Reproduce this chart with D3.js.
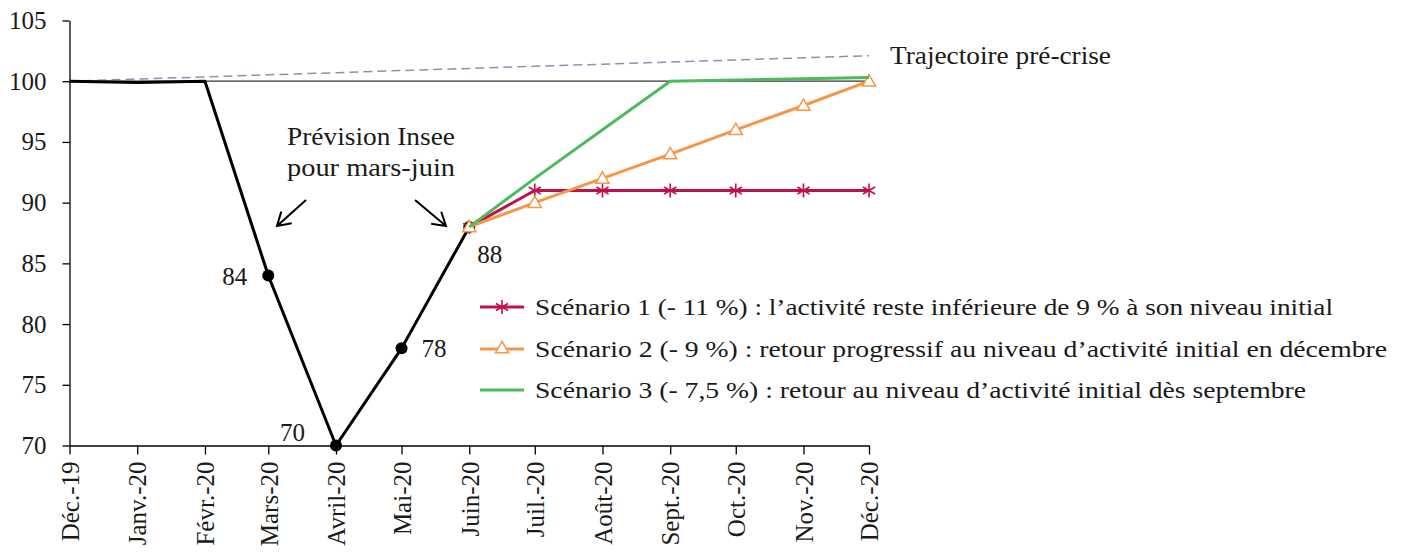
<!DOCTYPE html>
<html>
<head>
<meta charset="utf-8">
<script src="https://cdn.jsdelivr.net/npm/d3@7"></script>
<style>
  body { margin: 0; background: #fff; }
  text { font-family: "Liberation Serif", "DejaVu Serif", serif; fill: #1a1a1a; }
</style>
</head>
<body>
<svg id="chart" width="1404" height="557"></svg>
<script>
// Monthly points, December 2019 to December 2020
const months = [
  new Date(2019, 11, 1), new Date(2020, 0, 1), new Date(2020, 1, 1), new Date(2020, 2, 1),
  new Date(2020, 3, 1), new Date(2020, 4, 1), new Date(2020, 5, 1), new Date(2020, 6, 1),
  new Date(2020, 7, 1), new Date(2020, 8, 1), new Date(2020, 9, 1), new Date(2020, 10, 1),
  new Date(2020, 11, 1)
];
const monthLabels = ["Déc.-19", "Janv.-20", "Févr.-20", "Mars-20", "Avril-20", "Mai-20",
  "Juin-20", "Juil.-20", "Août-20", "Sept.-20", "Oct.-20", "Nov.-20", "Déc.-20"];

// Activity level (base 100), December 2019 to June 2020
const observed = [100, 99.9, 100, 84, 70, 78, 88];
const labelledPoints = [3, 4, 5, 6];

// Pre-crisis trend over the whole year
const preCrisis = [100, 100.18, 100.35, 100.53, 100.7, 100.88, 101.05, 101.23, 101.4, 101.58, 101.75, 101.93, 102.1];

// Scenarios from June to December 2020
const scenario1 = [88, 91, 91, 91, 91, 91, 91];
const scenario2 = [88, 90, 92, 94, 96, 98, 100];
const scenario3 = [88, 92, 96, 100, 100.1, 100.2, 100.3];
const scenarioStart = 6;

const yTicks = [70, 75, 80, 85, 90, 95, 100, 105];

const legendLabels = [
  "Scénario 1 (- 11 %) : l’activité reste inférieure de 9 % à son niveau initial",
  "Scénario 2 (- 9 %) : retour progressif au niveau d’activité initial en décembre",
  "Scénario 3 (- 7,5 %) : retour au niveau d’activité initial dès septembre"
];
const legendWidths = [798, 852, 771];
const trendLabel = "Trajectoire pré-crise";
const noteLines = ["Prévision Insee", "pour mars-juin"];

const colors = { obs: "#000", s1: "#C0104A", s2: "#F79646", s3: "#4DBA5E", trend: "#8497B0" };

const svg = d3.select("#chart");

const x = d3.scaleTime().domain([months[0], months[12]]).range([69.5, 869]);
const y = d3.scaleLinear().domain([70, 105]).range([445.5, 20.5]);

// Axes
const xAxis = svg.append("g")
  .attr("transform", `translate(0,${y(70)})`)
  .call(d3.axisBottom(x).tickValues(months).tickSize(9).tickSizeOuter(0)
    .tickFormat((d, i) => monthLabels[i]));
xAxis.selectAll("path,line").attr("stroke", "#000").attr("stroke-width", 1.3);
xAxis.selectAll("text")
  .attr("font-size", 25)
  .attr("transform", "rotate(-90)")
  .attr("text-anchor", "end")
  .attr("x", -16)
  .attr("y", 0)
  .attr("dy", "0.35em");

const yAxis = svg.append("g")
  .attr("transform", `translate(${x(months[0])},0)`)
  .call(d3.axisLeft(y).tickValues(yTicks).tickSize(7).tickSizeOuter(0).tickPadding(16));
yAxis.selectAll("path,line").attr("stroke", "#000").attr("stroke-width", 1.3);
yAxis.selectAll("text").attr("font-size", 25);

// Reference line at 100
svg.append("line")
  .attr("x1", x(months[0])).attr("x2", x(months[12]))
  .attr("y1", y(100)).attr("y2", y(100))
  .attr("stroke", "#333").attr("stroke-width", 1.2);

const line = d3.line().x(d => x(d[0])).y(d => y(d[1]));

// Pre-crisis trend
svg.append("path")
  .datum(preCrisis.map((v, i) => [months[i], v]))
  .attr("d", line)
  .attr("fill", "none")
  .attr("stroke", colors.trend)
  .attr("stroke-width", 1.5)
  .attr("stroke-dasharray", "9,5");

svg.append("text")
  .attr("x", x(months[12]) + 21)
  .attr("y", y(preCrisis[12]) + 8)
  .attr("font-size", 25)
  .attr("textLength", 221)
  .attr("lengthAdjust", "spacingAndGlyphs")
  .text(trendLabel);

// Observed / forecast path
const obsData = observed.map((v, i) => [months[i], v]);
svg.append("path")
  .datum(obsData)
  .attr("d", line)
  .attr("fill", "none")
  .attr("stroke", colors.obs)
  .attr("stroke-width", 3)
  .attr("stroke-linejoin", "round");

svg.selectAll("circle.obs")
  .data(labelledPoints)
  .join("circle")
  .attr("class", "obs")
  .attr("cx", i => x(months[i]))
  .attr("cy", i => y(observed[i]))
  .attr("r", 6)
  .attr("fill", "#000");

// Value labels beside the forecast points
const labelOffsets = { 3: [-21, 9, "end"], 4: [-31, -5, "end"], 5: [20, 9, "start"], 6: [8, 36, "start"] };
svg.selectAll("text.val")
  .data(labelledPoints)
  .join("text")
  .attr("class", "val")
  .attr("x", i => x(months[i]) + labelOffsets[i][0])
  .attr("y", i => y(observed[i]) + labelOffsets[i][1])
  .attr("text-anchor", i => labelOffsets[i][2])
  .attr("font-size", 25)
  .text(i => d3.format("d")(observed[i]));

// Scenarios
function scenarioData(values) {
  return values.map((v, i) => [months[scenarioStart + i], v]);
}
const s1 = scenarioData(scenario1), s2 = scenarioData(scenario2), s3 = scenarioData(scenario3);

function asterisk(g, cx, cy, r, color) {
  const a = r * 0.87, b = r * 0.5;
  g.append("path")
    .attr("d", `M${cx},${cy - r}L${cx},${cy + r}M${cx - a},${cy - b}L${cx + a},${cy + b}M${cx - a},${cy + b}L${cx + a},${cy - b}`)
    .attr("stroke", color).attr("stroke-width", 1.6).attr("fill", "none");
}
const triangle = d3.symbol().type(d3.symbolTriangle).size(75);

svg.append("path").datum(s1).attr("d", line)
  .attr("fill", "none").attr("stroke", colors.s1).attr("stroke-width", 3);
const g1 = svg.append("g");
s1.forEach(d => asterisk(g1, x(d[0]), y(d[1]), 7, colors.s1));

svg.append("path").datum(s2).attr("d", line)
  .attr("fill", "none").attr("stroke", colors.s2).attr("stroke-width", 3);
svg.selectAll("path.tri")
  .data(s2)
  .join("path")
  .attr("class", "tri")
  .attr("d", triangle)
  .attr("transform", d => `translate(${x(d[0])},${y(d[1]) + 1})`)
  .attr("fill", "#fff")
  .attr("stroke", colors.s2)
  .attr("stroke-width", 1.5);

svg.append("path").datum(s3).attr("d", line)
  .attr("fill", "none").attr("stroke", colors.s3).attr("stroke-width", 3);

// Annotation with arrows
const note = svg.append("g");
noteLines.forEach((t, i) => {
  note.append("text")
    .attr("x", 371).attr("y", 145 + i * 31)
    .attr("text-anchor", "middle")
    .attr("font-size", 25)
    .attr("textLength", 168)
    .attr("lengthAdjust", "spacingAndGlyphs")
    .text(t);
});
function arrow(x1, y1, x2, y2) {
  const ang = Math.atan2(y2 - y1, x2 - x1), L = 15, spread = 0.55;
  note.append("path")
    .attr("d", `M${x1},${y1}L${x2},${y2}` +
      `M${x2 - L * Math.cos(ang - spread)},${y2 - L * Math.sin(ang - spread)}L${x2},${y2}` +
      `L${x2 - L * Math.cos(ang + spread)},${y2 - L * Math.sin(ang + spread)}`)
    .attr("fill", "none").attr("stroke", "#000").attr("stroke-width", 2);
}
arrow(306, 200, 277, 226);
arrow(415, 200, 446, 226);

// Legend
const legend = svg.append("g");
const legendY = [307, 349, 390];
const legendColors = [colors.s1, colors.s2, colors.s3];
legendLabels.forEach((t, i) => {
  const ly = legendY[i];
  legend.append("line")
    .attr("x1", 480).attr("x2", 524).attr("y1", ly).attr("y2", ly)
    .attr("stroke", legendColors[i]).attr("stroke-width", 3);
  if (i === 0) asterisk(legend, 502, ly, 7, colors.s1);
  if (i === 1) legend.append("path").attr("d", triangle)
    .attr("transform", `translate(502,${ly})`)
    .attr("fill", "#fff").attr("stroke", colors.s2).attr("stroke-width", 1.5);
  legend.append("text")
    .attr("x", 535).attr("y", ly + 8)
    .attr("font-size", 23)
    .attr("textLength", legendWidths[i])
    .attr("lengthAdjust", "spacingAndGlyphs")
    .text(t);
});
</script>
</body>
</html>
